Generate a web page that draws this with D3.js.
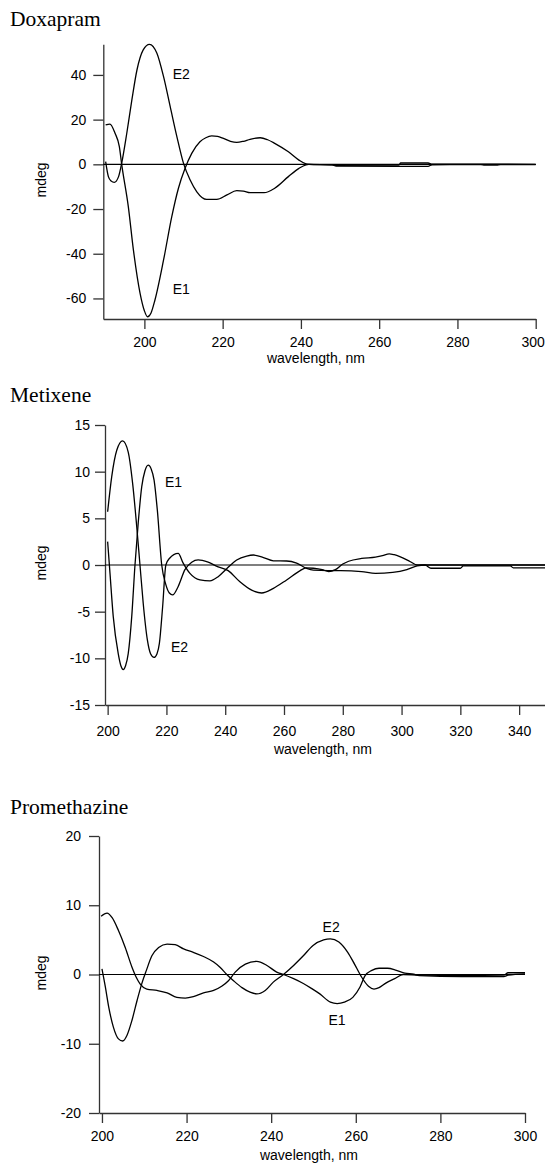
<!DOCTYPE html>
<html>
<head>
<meta charset="utf-8">
<script src="https://cdn.jsdelivr.net/npm/d3@7"></script>
<style>
  body { margin: 0; background: #fff; }
  .tick text { font-family: "Liberation Sans", Arial, sans-serif; font-size: 14px; fill: #000; }
  .axis path, .axis line { stroke: #333; stroke-width: 1.3px; }
  .title { font-family: "Liberation Serif", "Times New Roman", serif; font-size: 21.5px; }
  .lab { font-family: "Liberation Sans", Arial, sans-serif; font-size: 14px; }
</style>
</head>
<body>
<div id="chart"></div>
<script>
// CD spectra: [wavelength nm, mdeg]
var doxapramE1 = [[190.1,17.6],[191.2,18.0],[192.5,13.9],[193.6,7.9],[194.2,0],[195.9,-19],[197.2,-38.4],[198.9,-57.7],[200.0,-65.5],[200.8,-68.2],[201.7,-66.5],[202.7,-60.7],[204.9,-42.8],[207.0,-23.4],[208.7,-10.7],[210.4,-1.8],[212.1,4.9],[214.2,10.1],[215.7,11.9],[217.2,12.7],[218.7,12.5],[220.2,11.6],[222,10.3],[223.6,9.8],[225.3,10.3],[227.0,11.2],[229.6,11.9],[231.5,11.0],[233.3,9.4],[236.8,5.6],[239.5,1.9],[241.3,0.2],[242,0],[248,-0.2],[249,-0.8],[265,-0.9],[272.5,-0.9],[273.5,-0.2],[280,-0.1],[286,-0.1],[287,-0.4],[290,-0.4],[291,-0.1],[300,-0.1]];
var doxapramE2 = [[190.1,1.2],[190.8,-5.5],[191.5,-7.5],[192.3,-8.1],[193.4,-5.5],[194.2,0.5],[195.5,13.9],[196.8,28.8],[198.1,42.2],[199.7,51.2],[201.3,53.7],[203.2,49.7],[204.9,39.2],[206.6,25.8],[208.3,12.4],[210.0,0.4],[211.7,-7.0],[213.4,-12.3],[215.9,-15.7],[218.5,-15.7],[221.1,-13.7],[223.6,-11.8],[225.3,-12.0],[227.0,-12.7],[230.6,-12.7],[233.3,-10.7],[236.8,-5.5],[239.5,-1.8],[241.3,-0.2],[242,0],[248,-0.2],[249,-0.5],[265,-0.4],[265.5,0.6],[272.5,0.6],[273.5,0.1],[300,0]];

var metixeneE1 = [[200.0,2.5],[200.8,-0.9],[201.9,-5.5],[203.6,-9.5],[204.5,-10.8],[205.3,-11.2],[206.1,-10.8],[207.0,-9.5],[208.2,-5.5],[209.3,0],[210.4,4.5],[211.6,8.4],[212.7,10.1],[213.8,10.7],[214.8,10.3],[215.8,9.1],[216.9,5.9],[218.4,0],[219.8,-2.1],[221,-3.0],[222.1,-3.2],[224.0,-2.3],[226.3,-0.5],[228.6,0.3],[230.8,0.55],[234.2,0.3],[237.6,-0.2],[241.0,-0.6],[245.0,-1.8],[249.0,-2.7],[252.4,-3.0],[256.4,-2.5],[260.9,-1.6],[265.5,-0.6],[267.5,-0.3],[270,-0.35],[273,-0.5],[275.2,-0.7],[277.5,-0.5],[280,0.1],[282,0.4],[286.4,0.7],[291.1,0.85],[293.5,1.0],[295.8,1.2],[297.5,1.1],[299.4,0.9],[303,0.35],[305.3,0],[310,0],[320,0],[340,0],[349,0]];
var metixeneE2 = [[200.0,5.7],[201.4,9.5],[203.1,12.3],[205.1,13.3],[207.0,12.1],[208.5,8.75],[209.9,4.1],[211.0,0],[212.1,-4.1],[213.5,-8.0],[214.6,-9.5],[215.8,-9.9],[216.8,-9.5],[217.6,-8.4],[218.7,-4.5],[219.8,0],[221,0.7],[224.0,1.25],[225.7,0.2],[228.0,-0.9],[231.4,-1.6],[234.8,-1.7],[237.6,-1.25],[240.5,-0.4],[243.9,0.54],[247.3,0.96],[249.6,1.07],[253.0,0.8],[256.4,0.45],[260.9,0.43],[264.3,0.2],[267.7,-0.36],[270,-0.55],[275,-0.6],[279.3,-0.6],[286.4,-0.7],[291.1,-0.9],[297,-0.8],[301.8,-0.5],[305.3,-0.1],[308,0],[310,-0.35],[320,-0.35],[321,-0.1],[337,-0.1],[338,-0.3],[349,-0.3]];

var promethazineE1 = [[199.8,8.4],[201.2,8.85],[202.4,8.2],[203.9,6.35],[205.5,3.9],[207.1,1.05],[208.1,-0.4],[209.0,-1.35],[210.6,-2.1],[213.0,-2.3],[215.4,-2.65],[217.7,-3.3],[219.7,-3.4],[221.6,-3.2],[224.0,-2.65],[226.4,-2.3],[228.3,-1.7],[229.9,-0.9],[231.5,0.35],[233.9,1.5],[236.6,1.9],[239.0,1.3],[241.3,0.35],[242.9,0],[245.3,-0.6],[247.6,-1.3],[249.5,-2.0],[251.5,-2.8],[254.0,-4.0],[255.6,-4.2],[257.3,-4.0],[259.3,-3.3],[261.0,-1.8],[262.2,-0.15],[263.8,0.6],[265.5,0.9],[267.5,0.9],[269.6,0.6],[271.6,0.2],[273.7,0.05],[275,-0.15],[285,-0.3],[295,-0.3],[296,-0.1],[300,0.1]];
var promethazineE2 = [[200.0,0.8],[200.8,-1.8],[201.6,-4.7],[202.7,-7.6],[203.9,-9.3],[204.9,-9.6],[205.9,-8.8],[207.1,-6.6],[208.3,-3.75],[209.4,-1.35],[210.5,0.6],[211.8,2.7],[213.4,3.9],[215.4,4.4],[217.3,4.3],[219.3,3.7],[221.6,3.2],[224.0,2.6],[226.4,1.8],[227.9,1.05],[229.5,0],[231.1,-0.9],[233.1,-1.9],[235.0,-2.55],[236.6,-2.8],[238.6,-2.3],[240.5,-1.1],[242.9,0],[245.3,1.3],[247.6,2.7],[249.9,4.2],[252.4,5.0],[254.0,5.15],[256.0,4.7],[258.1,3.2],[259.7,1.5],[261.4,-0.4],[263.0,-1.7],[264.3,-2.1],[265.5,-1.9],[267.1,-1.25],[269.2,-0.6],[271.2,0],[275,-0.1],[285,-0.15],[295,-0.1],[296,0.25],[300,0.25]];

// tick values
var doxXTicks = [200, 220, 240, 260, 280, 300];
var doxYTicks = [-60, -40, -20, 0, 20, 40];
var metXTicks = [200, 220, 240, 260, 280, 300, 320, 340];
var metYTicks = [-15, -10, -5, 0, 5, 10, 15];
var proXTicks = [200, 220, 240, 260, 280, 300];
var proYTicks = [-20, -10, 0, 10, 20];

var svg = d3.select("#chart").append("svg")
  .attr("width", 545)
  .attr("height", 1163);

svg.append("rect").attr("width", 545).attr("height", 1163).attr("fill", "#fff");

function drawPanel(p) {
  var x = d3.scaleLinear().domain(p.xDomain).range(p.xRange);
  var y = d3.scaleLinear().domain(p.yDomain).range(p.yRange);
  var g = svg.append("g");

  // title
  g.append("text").attr("class", "title")
    .attr("x", 10).attr("y", p.titleY)
    .text(p.title);

  // axes
  var xAxis = g.append("g").attr("class", "axis")
    .attr("transform", "translate(0," + p.yRange[0] + ")")
    .call(d3.axisBottom(x).tickValues(p.xTicks).tickSize(10).tickSizeOuter(0)
      .tickPadding(p.xPad).tickFormat(function(d) { return String(d); }));

  // keep the last tick label inside the picture
  xAxis.selectAll(".tick text")
    .filter(function(d) { return x(d) + 12 > 545; })
    .attr("dx", -3);

  g.append("g").attr("class", "axis")
    .attr("transform", "translate(" + p.xRange[0] + ",0)")
    .call(d3.axisLeft(y).tickValues(p.yTicks).tickSize(10).tickSizeOuter(0)
      .tickPadding(p.yPad).tickFormat(function(d) { return String(d); }));

  // zero line
  g.append("line")
    .attr("x1", p.xRange[0]).attr("x2", p.xRange[1])
    .attr("y1", y(0)).attr("y2", y(0))
    .attr("stroke", "#000").attr("stroke-width", 1.2);

  var line = d3.line()
    .x(function(d) { return x(d[0]); })
    .y(function(d) { return y(d[1]); })
    .curve(d3.curveMonotoneX);

  [p.e1, p.e2].forEach(function(s) {
    g.append("path").datum(s)
      .attr("d", line)
      .attr("fill", "none")
      .attr("stroke", "#000")
      .attr("stroke-width", 1.3);
  });

  // axis labels
  g.append("text").attr("class", "lab")
    .attr("x", p.xLabX).attr("y", p.xLabY)
    .attr("text-anchor", "middle")
    .text("wavelength, nm");

  g.append("text").attr("class", "lab")
    .attr("transform", "translate(46," + p.yLabY + ") rotate(-90)")
    .attr("text-anchor", "middle")
    .text("mdeg");

  p.labels.forEach(function(l) {
    g.append("text").attr("class", "lab")
      .attr("x", l.x).attr("y", l.y)
      .text(l.t);
  });
}

drawPanel({
  title: "Doxapram", titleY: 26,
  xDomain: [189.5, 300], xRange: [103.3, 535.7],
  yDomain: [-69.2, 53.7], yRange: [319, 44.3],
  xTicks: doxXTicks, yTicks: doxYTicks, xPad: 8, yPad: 7,
  e1: doxapramE1, e2: doxapramE2,
  xLabX: 316, xLabY: 363, yLabY: 180,
  labels: [{t: "E2", x: 172.7, y: 78.5}, {t: "E1", x: 172.7, y: 293.5}]
});

drawPanel({
  title: "Metixene", titleY: 401.5,
  xDomain: [199.1, 348.8], xRange: [105, 545],
  yDomain: [-15, 15], yRange: [705, 425],
  xTicks: metXTicks, yTicks: metYTicks, xPad: 11, yPad: 5,
  e1: metixeneE1, e2: metixeneE2,
  xLabX: 323, xLabY: 754, yLabY: 563,
  labels: [{t: "E1", x: 165, y: 487}, {t: "E2", x: 171, y: 652}]
});

drawPanel({
  title: "Promethazine", titleY: 814,
  xDomain: [199.3, 300], xRange: [99, 525],
  yDomain: [-20, 20], yRange: [1113, 836],
  xTicks: proXTicks, yTicks: proYTicks, xPad: 8, yPad: 8,
  e1: promethazineE1, e2: promethazineE2,
  xLabX: 309, xLabY: 1159.5, yLabY: 973,
  labels: [{t: "E2", x: 322.6, y: 932}, {t: "E1", x: 328.5, y: 1024.5}]
});
</script>
</body>
</html>
